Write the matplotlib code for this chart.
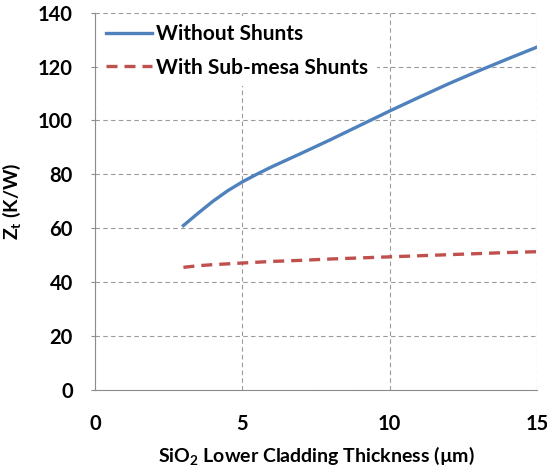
import numpy as np
import matplotlib.pyplot as plt

# thickness of SiO2 lower cladding [um]
thickness = [3, 3.5, 4, 4.5, 5, 5.5, 6, 7, 8, 9, 10, 11, 12, 13, 14, 15]
# thermal impedance [K/W]
z_no_shunt = [61, 65.6, 70, 73.9, 77.2, 80.1, 82.8, 87.8, 92.9, 98.2, 103.5, 108.6, 113.6, 118.3, 122.8, 127.2]
z_shunt = [45.5, 46.1, 46.5, 46.8, 47.1, 47.4, 47.7, 48.1, 48.6, 49.0, 49.4, 49.8, 50.2, 50.6, 51.0, 51.3]

plt.rcParams['font.family'] = ['Lato', 'DejaVu Sans']
plt.rcParams['font.weight'] = 'bold'
plt.rcParams['axes.labelweight'] = 'bold'
plt.rcParams['mathtext.fontset'] = 'custom'
plt.rcParams['mathtext.rm'] = 'Lato:bold'
plt.rcParams['mathtext.it'] = 'Lato:bold'
plt.rcParams['mathtext.bf'] = 'Lato:bold'

fig = plt.figure(figsize=(5.47, 4.70), dpi=100)
ax = fig.add_axes([0.1737, 0.1702, 0.808, 0.803])

ax.plot(thickness, z_no_shunt, color='#4F81BD', lw=2.4, label='Without Shunts')
ax.plot(thickness, z_shunt, color='#C0504D', lw=2.4, dashes=(3.3, 2.1), label='With Sub-mesa Shunts')

ax.set_xlim(0, 15)
ax.set_ylim(0, 140)
ax.set_xticks([0, 5, 10, 15])
ax.set_yticks(np.arange(0, 141, 20))
ax.grid(True, color='#9a9a9a', ls=(0, (4, 3)), lw=0.8)
ax.set_axisbelow(True)
for s in ['top', 'right']:
    ax.spines[s].set_visible(False)
for s in ['left', 'bottom']:
    ax.spines[s].set_color('#8c8c8c')
ax.tick_params(axis='y', length=3, color='#8c8c8c', labelsize=14.5, pad=13)
ax.tick_params(axis='x', length=0, labelsize=14.5, pad=17)

ax.set_xlabel('SiO$_\\mathrm{2}$ Lower Cladding Thickness (µm)', fontsize=14, labelpad=8)
ax.set_ylabel('Z$_\\mathrm{t}$ (K/W)', fontsize=14, labelpad=11)

leg = ax.legend(loc='upper left', frameon=True, fontsize=15, handlelength=2.2,
                handletextpad=0.2, borderaxespad=0.15, labelspacing=0.65)
leg.get_frame().set_edgecolor('none')
leg.get_frame().set_facecolor('white')
leg.get_frame().set_alpha(1)

plt.savefig('out.png', dpi=100)
